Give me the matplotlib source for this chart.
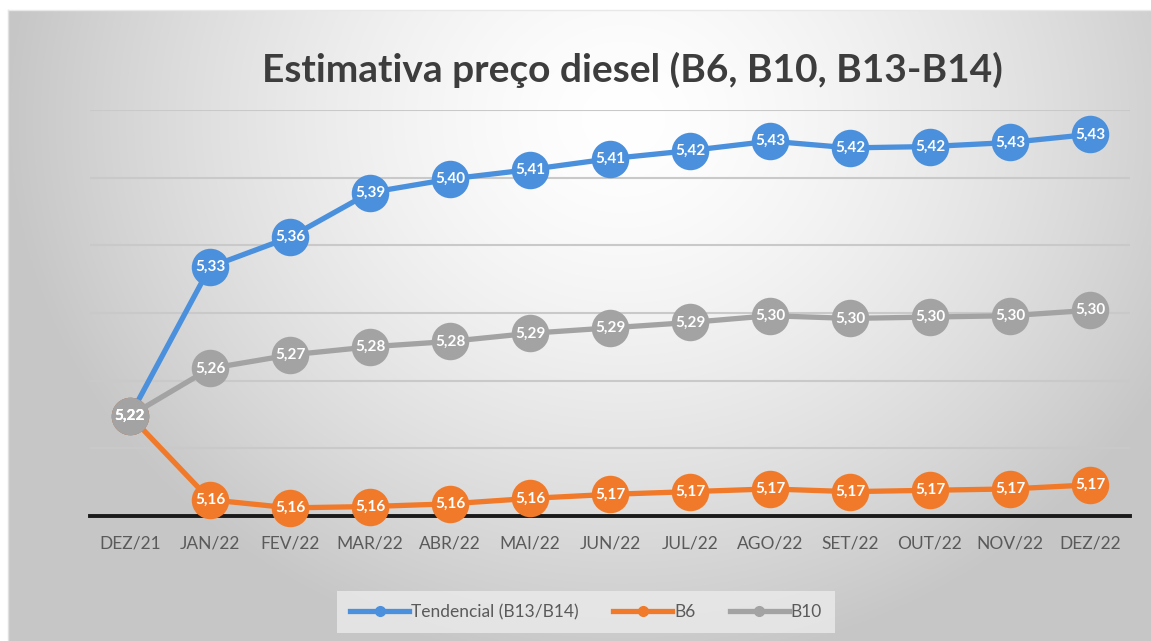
import numpy as np
import matplotlib
matplotlib.use("Agg")
import matplotlib.pyplot as plt
from matplotlib.lines import Line2D

months = ["DEZ/21", "JAN/22", "FEV/22", "MAR/22", "ABR/22", "MAI/22", "JUN/22",
          "JUL/22", "AGO/22", "SET/22", "OUT/22", "NOV/22", "DEZ/22"]
tendencial = [5.224, 5.334, 5.356, 5.389, 5.399, 5.406, 5.414, 5.420, 5.427, 5.422, 5.423, 5.426, 5.432]
b6 = [5.224, 5.162, 5.156, 5.157, 5.159, 5.163, 5.166, 5.168, 5.170, 5.168, 5.169, 5.170, 5.173]
b10 = [5.224, 5.259, 5.269, 5.275, 5.279, 5.285, 5.289, 5.293, 5.298, 5.296, 5.297, 5.298, 5.302]
series_names = ["Tendencial (B13/B14)", "B6", "B10"]
colors = ["#4a90dc", "#f07a2a", "#a3a3a3"]
title = "Estimativa preço diesel (B6, B10, B13-B14)"

W, H = 1151, 641
fig = plt.figure(figsize=(W / 100, H / 100), dpi=100)
fig.patch.set_facecolor("white")

# background gradient panel
bg = fig.add_axes([0, 0, 1, 1], zorder=0)
bg.set_xlim(0, W)
bg.set_ylim(H, 0)
bg.axis("off")
xx, yy = np.meshgrid(np.linspace(0, W, 400), np.linspace(0, H, 240))
d = np.sqrt(((xx - 620) / 600) ** 2 + ((yy - 110) / 540) ** 2)
val = 1.0 - 0.21 * np.clip(d, 0, 1.3) ** 1.5
val = np.clip(val, 0.78, 1.0)
img = np.dstack([val, val, val])
bg.imshow(img, extent=[8, W, H, 10], aspect="auto", interpolation="bilinear", zorder=0)
bg.plot([8, 8], [10, H], color="#e0e0e0", lw=1, zorder=1)
bg.plot([8, W], [10, 10], color="#e8e8e8", lw=1, zorder=1)

ax = fig.add_axes([90 / W, (H - 516) / H, 1040 / W, 406 / H], zorder=2)
ax.patch.set_alpha(0)
x = np.arange(len(months))
ax.set_xlim(-0.5, len(months) - 0.5)
ax.set_ylim(5.15, 5.45)
ax.set_yticks(np.arange(5.15, 5.451, 0.05))
ax.yaxis.grid(True, color="#c9c9c9", lw=1.5)
ax.set_axisbelow(True)
for s in ["top", "right", "left"]:
    ax.spines[s].set_visible(False)
ax.spines["bottom"].set_color("#1a1a1a")
ax.spines["bottom"].set_linewidth(2.8)
ax.tick_params(axis="y", left=False, labelleft=False)
ax.tick_params(axis="x", length=0, pad=14)
ax.set_xticks(x)
ax.set_xticklabels(months, fontsize=12.5, color="#5a5a5a", family=["Lato", "DejaVu Sans"])

for vals, c, name in zip([tendencial, b6, b10], colors, series_names):
    ax.plot(x, vals, color=c, lw=3.8, marker="o", markersize=27, markeredgewidth=0,
            label=name, clip_on=False, zorder=3)
    for xi, v in zip(x, vals):
        ax.text(xi, v, f"{v:.2f}".replace(".", ","), ha="center", va="center",
                color="white", fontsize=11, fontweight="bold",
                family=["Lato", "DejaVu Sans"], zorder=5)

fig.text(632 / W, 1 - 70 / H, title, ha="center", va="center", fontsize=28,
         fontweight="bold", color="#3d3d3d", family=["Lato", "DejaVu Sans"])

handles = [Line2D([0], [0], color=c, lw=3.8, marker="o", markersize=7) for c in colors]
leg = fig.legend(handles, series_names, loc="center", bbox_to_anchor=(586 / W, 1 - 612 / H),
                 ncol=3, frameon=True, fontsize=12.5, handlelength=3.4, handletextpad=0.1,
                 columnspacing=2.0, borderpad=0.75)
leg.get_frame().set_facecolor("#ebebeb")
leg.get_frame().set_edgecolor("none")
leg.get_frame().set_boxstyle("square", pad=0)
for t in leg.get_texts():
    t.set_color("#5a5a5a")
    t.set_family(["Lato", "DejaVu Sans"])

fig.savefig("out.png", dpi=100)
